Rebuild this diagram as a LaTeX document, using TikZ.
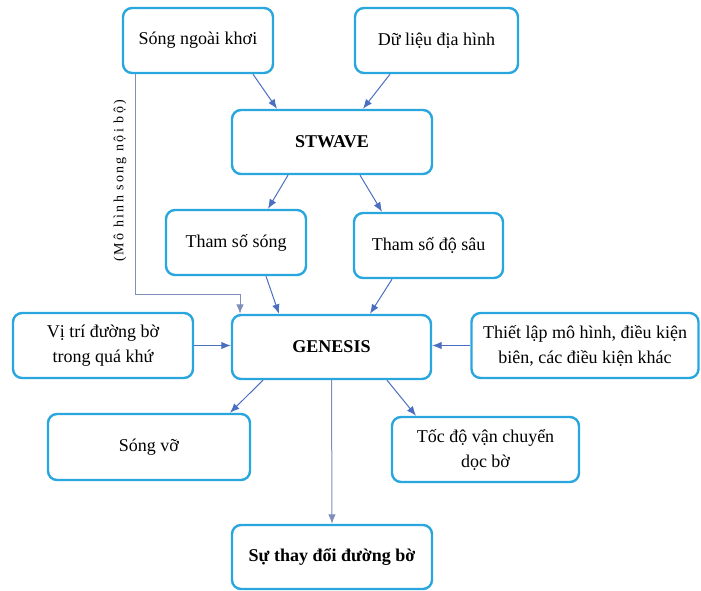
\documentclass[tikz,border=0pt]{standalone}
\usepackage{fontspec}
\setmainfont{Liberation Serif}
\usetikzlibrary{arrows.meta}
\definecolor{boxblue}{HTML}{2AA6DE}
\definecolor{arrblue}{HTML}{4A6EC0}
\definecolor{lineblue}{HTML}{7F8DBA}
\tikzset{
  box/.style={draw=boxblue, line width=2.4pt, rounded corners=9pt, fill=white,
    align=center, inner sep=2pt, font=\fontsize{18}{25}\selectfont},
  arr/.style={draw=arrblue, line width=1pt, -{Latex[length=9.5pt,width=7.5pt]}},
  thinarr/.style={draw=lineblue, line width=1pt, -{Latex[length=9.5pt,width=7.5pt]}},
}
\begin{document}
\begin{tikzpicture}[x=1pt,y=-1pt]
\useasboundingbox (0,0) rectangle (701,591);
\node[box, minimum width=150pt, minimum height=65pt] (nk) at (198,40.5) {Sóng ngoài khơi};
\node[box, minimum width=163pt, minimum height=65pt] (dl) at (436.5,40.5) {Dữ liệu địa hình};
\node[box, minimum width=200pt, minimum height=64pt] (stw) at (332,142) {\textbf{STWAVE}};
\node[box, minimum width=140pt, minimum height=65pt] (tss) at (236,242.5) {Tham số sóng};
\node[box, minimum width=149pt, minimum height=65pt] (tsd) at (428.5,245.5) {Tham số độ sâu};
\node[box, minimum width=199pt, minimum height=64pt] (gen) at (331.5,347) {\textbf{GENESIS}};
\node[box, minimum width=180pt, minimum height=65pt] (vt) at (103,345.5) {Vị trí đường bờ\\trong quá khứ};
\node[box, minimum width=227pt, minimum height=65pt] (tl) at (585,345.5) {Thiết lập mô hình, điều kiện\\biên, các điều kiện khác};
\node[box, minimum width=202pt, minimum height=66pt] (sv) at (149,447) {Sóng vỡ};
\node[box, minimum width=187pt, minimum height=65pt] (td) at (485.5,449.5) {Tốc độ vận chuyển\\dọc bờ};
\node[box, minimum width=200pt, minimum height=64pt] (st) at (332,557) {\textbf{Sự thay đổi đường bờ}};

\draw[arr] ([xshift=55pt]nk.south) -- ([xshift=-55pt]stw.north);
\draw[arr] ([xshift=-46.5pt]dl.south) -- ([xshift=31pt]stw.north);
\draw[arr] ([xshift=-44pt]stw.south) -- ([xshift=32pt]tss.north);
\draw[arr] ([xshift=28pt]stw.south) -- ([xshift=-46.5pt]tsd.north);
\draw[arr] ([xshift=30pt]tss.south) -- ([xshift=-52.5pt]gen.north);
\draw[arr] ([xshift=-36.5pt]tsd.south) -- ([xshift=38.5pt]gen.north);
\draw[thinarr] ([xshift=-63pt]nk.south) -- ++(0,220) coordinate (bend) -| ([xshift=-91.5pt]gen.north);
\node[rotate=90, font=\fontsize{14}{16}\selectfont\addfontfeatures{LetterSpace=16}] (lbl) at (120,181) {(Mô hình song nội bộ)};
\draw[arr] (vt.east) -- (vt.east -| gen.west);
\draw[arr] (tl.west) -- (tl.west -| gen.east);
\draw[arr] ([xshift=-68.5pt]gen.south) -- ([xshift=81pt]sv.north);
\draw[arr] ([xshift=55.5pt]gen.south) -- ([xshift=-69.5pt]td.north);
\draw[thinarr] (gen.south) -- (st.north);
\end{tikzpicture}
\end{document}
